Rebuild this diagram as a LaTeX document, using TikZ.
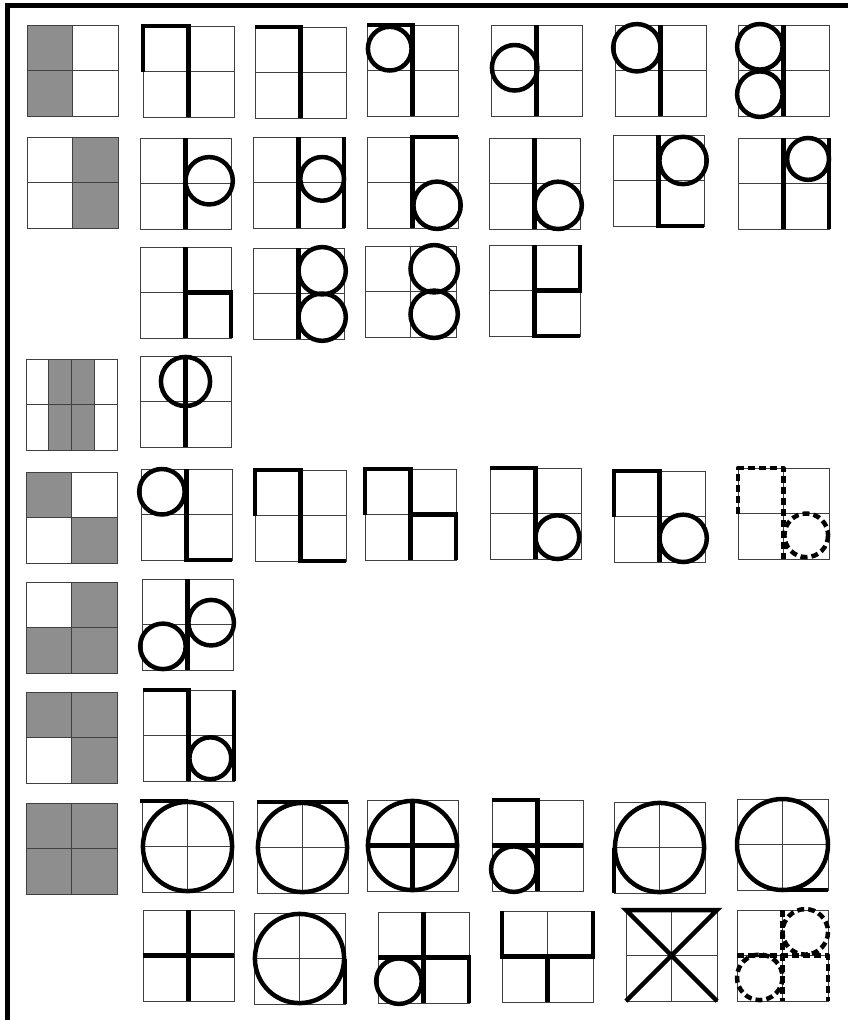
\documentclass[tikz,border=0pt]{standalone}
\usetikzlibrary{calc}
\definecolor{cellgray}{RGB}{142,142,142}
\tikzset{
  gridline/.style={draw=black!75, line width=1pt},
  shade/.style={fill=cellgray},
  heavy/.style={draw=black, line width=4.5pt, line join=miter},
  heavyd/.style={heavy, dash pattern=on 7pt off 4pt, line join=round},
}
\newcommand\mycell[4]{%
  \begin{scope}[shift={(#1,#2)}, x=91pt, y=-91pt]
    #3
    \draw[gridline] (0,0) rectangle (1,1) (0.5,0) -- (0.5,1) (0,0.5) -- (1,0.5);
    #4
  \end{scope}}
\begin{document}
\begin{tikzpicture}[x=1pt, y=-1pt]
\useasboundingbox (0,0) rectangle (847,1020);
\fill[white] (0,0) rectangle (847,1020);
% frame
\draw[line width=5pt, line join=miter] (7,1022) -- (7,5) -- (849,5);

% ---------- Row 1
\mycell{27}{25}{\fill[shade] (0,0) rectangle (0.5,1);}{}
\mycell{143}{26}{}{\draw[heavy] (0,0.5) -- (0,0) -- (0.5,0) -- (0.5,1);}
\mycell{255}{27}{}{\draw[heavy] (0,0) -- (0.5,0) -- (0.5,1);}
\mycell{367}{25}{}{\draw[heavy] (0,0) -- (0.5,0) -- (0.5,1);
  \draw[heavy] (0.25,0.26) circle[radius=0.24];}
\mycell{491}{25}{}{\draw[heavy] (0.5,0) -- (0.5,1);
  \draw[heavy] (0.26,0.47) circle[radius=0.25];}
\mycell{615}{25}{}{\draw[heavy] (0.5,0) -- (0.5,1);
  \draw[heavy] (0.24,0.25) circle[radius=0.26];}
\mycell{738}{25}{}{\draw[heavy] (0.5,0) -- (0.5,1);
  \draw[heavy] (0.24,0.24) circle[radius=0.25];
  \draw[heavy] (0.24,0.76) circle[radius=0.25];}

% ---------- Row 2
\mycell{27}{137}{\fill[shade] (0.5,0) rectangle (1,1);}{}
\mycell{140}{138}{}{\draw[heavy] (0.5,0) -- (0.5,1);
  \draw[heavy] (0.76,0.47) circle[radius=0.26];}
\mycell{253}{137}{}{\draw[heavy] (0.5,0) -- (0.5,1);
  \draw[heavy] (1,0) -- (1,1);
  \draw[heavy] (0.76,0.46) circle[radius=0.24];}
\mycell{367}{137}{}{\draw[heavy] (1,0) -- (0.5,0) -- (0.5,1);
  \draw[heavy] (0.77,0.75) circle[radius=0.26];}
\mycell{489}{138}{}{\draw[heavy] (0.5,0) -- (0.5,1);
  \draw[heavy] (0.76,0.74) circle[radius=0.26];}
\mycell{613}{135}{}{\draw[heavy] (0.5,0) -- (0.5,1) -- (1,1);
  \draw[heavy] (0.77,0.28) circle[radius=0.26];}
\mycell{738}{138}{}{\draw[heavy] (0.5,0) -- (0.5,1);
  \draw[heavy] (1,0) -- (1,1);
  \draw[heavy] (0.77,0.23) circle[radius=0.23];}

% ---------- Row 3
\mycell{140}{247}{}{\draw[heavy] (0.5,0) -- (0.5,1);
  \draw[heavy] (0.5,0.5) -- (1,0.5) -- (1,1);}
\mycell{253}{248}{}{\draw[heavy] (0.5,0) -- (0.5,1);
  \draw[heavy] (0.76,0.25) circle[radius=0.26];
  \draw[heavy] (0.76,0.76) circle[radius=0.26];}
\mycell{365}{246}{}{\draw[heavy] (0.76,0.25) circle[radius=0.26];
  \draw[heavy] (0.76,0.75) circle[radius=0.26];}
\mycell{489}{245}{}{\draw[heavy] (0.5,0) -- (0.5,1) -- (1,1);
  \draw[heavy] (0.5,0.5) -- (1,0.5) -- (1,0);}

% ---------- Row 4
\mycell{26}{359}{\fill[shade] (0.25,0) rectangle (0.75,1);}{%
  \draw[gridline] (0.25,0) -- (0.25,1) (0.75,0) -- (0.75,1);}
\mycell{140}{356}{}{\draw[heavy] (0.5,0) -- (0.5,1);
  \draw[heavy] (0.5,0.28) circle[radius=0.27];}

% ---------- Row 5
\mycell{26}{472}{\fill[shade] (0,0) rectangle (0.5,0.5) (0.5,0.5) rectangle (1,1);}{}
\mycell{141}{469}{}{\draw[heavy] (0.5,0) -- (0.5,1) -- (1,1);
  \draw[heavy] (0.23,0.25) circle[radius=0.25];}
\mycell{255}{470}{}{\draw[heavy] (0,0.5) -- (0,0) -- (0.5,0) -- (0.5,1) -- (1,1);}
\mycell{365}{469}{}{\draw[heavy] (0,0.5) -- (0,0) -- (0.5,0) -- (0.5,1);
  \draw[heavy] (0.5,0.5) -- (1,0.5) -- (1,1);}
\mycell{490}{468}{}{\draw[heavy] (0,0) -- (0.5,0) -- (0.5,1);
  \draw[heavy] (0.74,0.76) circle[radius=0.24];}
\mycell{614}{471}{}{\draw[heavy] (0,0.5) -- (0,0) -- (0.5,0) -- (0.5,1);
  \draw[heavy] (0.76,0.74) circle[radius=0.26];}
\mycell{738}{468}{}{\draw[heavyd] (0,0.5) -- (0,0) -- (0.5,0) -- (0.5,1);
  \draw[heavyd] (0.75,0.74) circle[radius=0.24];}

% ---------- Row 6
\mycell{26}{582}{\fill[shade] (0.5,0) rectangle (1,0.5) (0,0.5) rectangle (1,1);}{}
\mycell{142}{579}{}{\draw[heavy] (0.5,0) -- (0.5,1);
  \draw[heavy] (0.76,0.48) circle[radius=0.25];
  \draw[heavy] (0.23,0.74) circle[radius=0.25];}

% ---------- Row 7
\mycell{26}{692}{\fill[shade] (0,0) rectangle (1,0.5) (0.5,0.5) rectangle (1,1);}{}
\mycell{143}{690}{}{\draw[heavy] (0,0) -- (0.5,0) -- (0.5,1);
  \draw[heavy] (1,0) -- (1,1);
  \draw[heavy] (0.74,0.75) circle[radius=0.23];}

% ---------- Row 8
\mycell{26}{803}{\fill[shade] (0,0) rectangle (1,1);}{}
\mycell{142}{801}{}{\draw[heavy] (-0.02,0) -- (0.5,0);
  \draw[heavy] (0.5,0.5) circle[radius=0.49];}
\mycell{257}{802}{}{\draw[heavy] (0,0) -- (1,0);
  \draw[heavy] (0.5,0.5) circle[radius=0.49];}
\mycell{367}{800}{}{\draw[heavy] (0.5,0.5) circle[radius=0.49];
  \draw[heavy] (0.5,0) -- (0.5,1) (0,0.5) -- (1,0.5);}
\mycell{492}{800}{}{\draw[heavy] (0,0) -- (0.5,0) -- (0.5,1);
  \draw[heavy] (0,0.5) -- (1,0.5);
  \draw[heavy] (0.24,0.76) circle[radius=0.25];}
\mycell{614}{802}{}{\draw[heavy] (0.5,0.5) circle[radius=0.49];
  \draw[heavy] (0,0.5) -- (0,1);}
\mycell{737}{799}{}{\draw[heavy] (0.5,0.5) circle[radius=0.5];
  \draw[heavy] (0.5,1) -- (1,1);}

% ---------- Row 9
\mycell{143}{910}{}{\draw[heavy] (0.5,0) -- (0.5,1) (0,0.5) -- (1,0.5);}
\mycell{254}{913}{}{\draw[heavy] (0.5,0.5) circle[radius=0.49];
  \draw[heavy] (1,0.5) -- (1,1);}
\mycell{378}{912}{}{\draw[heavy] (0.5,0) -- (0.5,1);
  \draw[heavy] (0,0.5) -- (1,0.5) -- (1,1);
  \draw[heavy] (0.23,0.76) circle[radius=0.25];}
\mycell{502}{911}{}{\draw[heavy] (0,0) -- (0,0.5) -- (1,0.5) -- (1,0);
  \draw[heavy] (0.5,0.5) -- (0.5,1);}
\mycell{626}{910}{}{\draw[heavy] (1,1) -- (0,0) -- (1,0) -- (0,1);}
\mycell{737}{910}{}{\draw[heavyd] (0.5,0) -- (0.5,1);
  \draw[heavyd] (0,0.5) -- (1,0.5) -- (1,1);
  \draw[heavyd] (0.75,0.24) circle[radius=0.25];
  \draw[heavyd] (0.25,0.74) circle[radius=0.25];}
\end{tikzpicture}
\end{document}
